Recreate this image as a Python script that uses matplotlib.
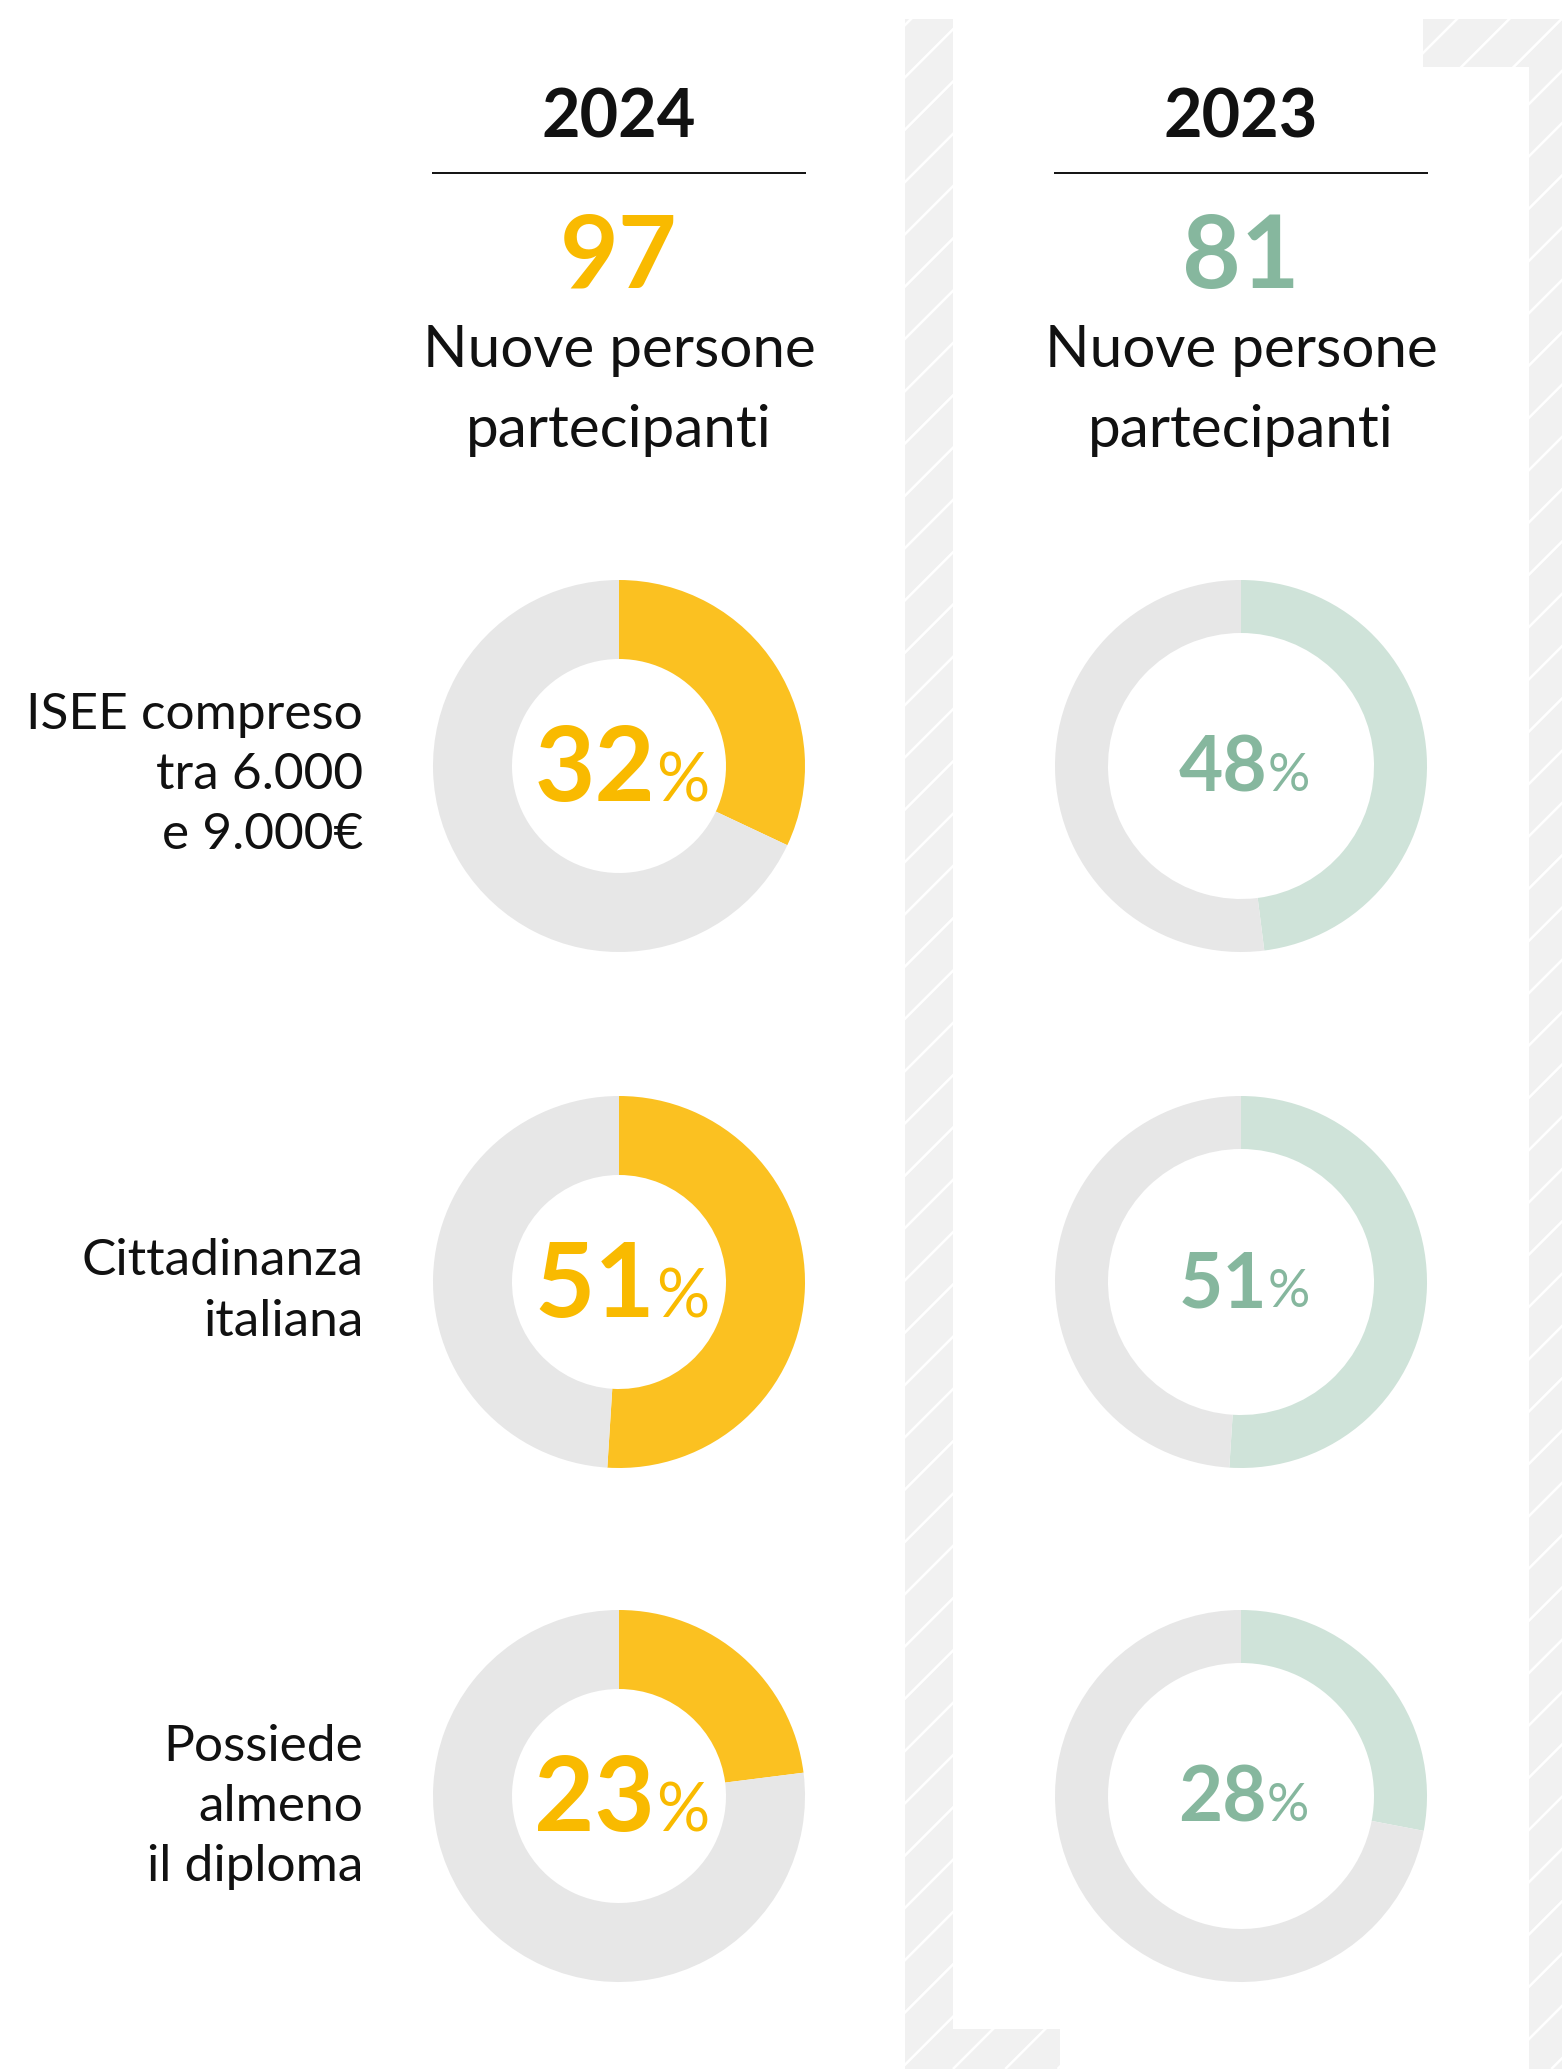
import matplotlib.pyplot as plt
from matplotlib.patches import Rectangle
from matplotlib.collections import LineCollection
import numpy as np

plt.rcParams['font.family'] = ['Lato', 'DejaVu Sans']

W, H = 1562, 2069
DPI = 100

# data
years = ["2024", "2023"]
participants = [97, 81]
participants_label = ["Nuove persone", "partecipanti"]
categories = [
    ["ISEE compreso", "tra 6.000", "e 9.000€"],
    ["Cittadinanza", "italiana"],
    ["Possiede", "almeno", "il diploma"],
]
share_2024 = [32, 51, 23]
share_2023 = [48, 51, 28]
shares = [share_2024, share_2023]

# styling
ring_colors = ["#FBC121", "#CFE3D9"]
text_colors = ["#F9BA00", "#86B79E"]
GRAY_RING = "#E7E7E7"
HATCH_BG = "#F1F1F1"
INK = "#111111"

col_x = [619, 1241]
row_y = [766, 1282, 1796]
R_OUT = 186
ring_width = [79, 53]
digit_size = [75, 55]
pct_size = [48, 38]
pct_gap = [1, 0]
CAP = 0.7165  # Lato cap height / em

fig = plt.figure(figsize=(W / DPI, H / DPI), dpi=DPI)
fig.patch.set_facecolor("white")

# background layer in pixel coordinates (y down)
bg = fig.add_axes([0, 0, 1, 1], zorder=0)
bg.set_xlim(0, W)
bg.set_ylim(H, 0)
bg.axis("off")

# hatched frame pieces: (x, y, w, h), grouped by stripe offset
frame_groups = [
    (930, [(905, 19, 48, 2050), (953, 2029, 107, 40)]),
    (1476, [(1423, 19, 106, 48), (1529, 19, 33, 2050)]),
]
SPACING = 52.3
for c0, rects in frame_groups:
    cs = c0 + SPACING * np.arange(-60, 60)
    segs = [[(c, 0), (c - H, H)] for c in cs]
    for (x, y, w, h) in rects:
        rect = Rectangle((x, y), w, h, facecolor=HATCH_BG, edgecolor="none")
        bg.add_patch(rect)
        lc = LineCollection(segs, colors="white", linewidths=1.8)
        bg.add_collection(lc)
        lc.set_clip_path(rect)

# donuts
for j in range(2):
    for i in range(3):
        cx, cy = col_x[j], row_y[i]
        ax = fig.add_axes([(cx - R_OUT) / W, 1 - (cy + R_OUT) / H,
                           2 * R_OUT / W, 2 * R_OUT / H], zorder=1)
        v = shares[j][i]
        ax.pie([v, 100 - v], colors=[ring_colors[j], GRAY_RING],
               startangle=90, counterclock=False, radius=1,
               wedgeprops=dict(width=ring_width[j] / R_OUT, linewidth=0))
        ax.set_xlim(-1, 1)
        ax.set_ylim(-1, 1)
        ax.set_aspect("equal")
        ax.axis("off")

# foreground text layer
fg = fig.add_axes([0, 0, 1, 1], zorder=2)
fg.set_xlim(0, W)
fg.set_ylim(H, 0)
fg.axis("off")
fg.patch.set_alpha(0)

renderer = fig.canvas.get_renderer()

for j in range(2):
    cx = col_x[j]
    fg.text(cx, 138, years[j], ha="center", va="baseline",
            fontsize=48, fontweight="bold", color=INK)
    fg.plot([cx - 187, cx + 187], [173, 173], color=INK, lw=1.4,
            solid_capstyle="butt")
    fg.text(cx, 288, str(participants[j]), ha="center", va="baseline",
            fontsize=73, fontweight="bold", color=text_colors[j])
    fg.text(cx, 367, participants_label[0], ha="center", va="baseline",
            fontsize=42, color=INK)
    fg.text(cx, 447, participants_label[1], ha="center", va="baseline",
            fontsize=42, color=INK)

    # percentage in the middle of each donut
    for i in range(3):
        cy = row_y[i]
        cap_px = digit_size[j] * DPI / 72 * CAP
        base = cy + cap_px / 2 - 2
        num = fg.text(0, base, str(shares[j][i]), ha="left", va="baseline",
                      fontsize=digit_size[j], fontweight="bold",
                      color=text_colors[j])
        pct = fg.text(0, base, "%", ha="left", va="baseline",
                      fontsize=pct_size[j], color=text_colors[j])
        wn = num.get_window_extent(renderer).width
        wp = pct.get_window_extent(renderer).width
        left = cx + 3 - (wn + pct_gap[j] + wp) / 2
        num.set_x(left)
        pct.set_x(left + wn + pct_gap[j])

# row labels
label_baselines = [[729, 789, 849], [1275, 1336], [1761, 1821, 1881]]
for lines, bases in zip(categories, label_baselines):
    for txt, yb in zip(lines, bases):
        fg.text(363, yb, txt, ha="right", va="baseline", fontsize=37,
                color=INK)

fig.savefig("out.png", dpi=DPI, facecolor="white")
